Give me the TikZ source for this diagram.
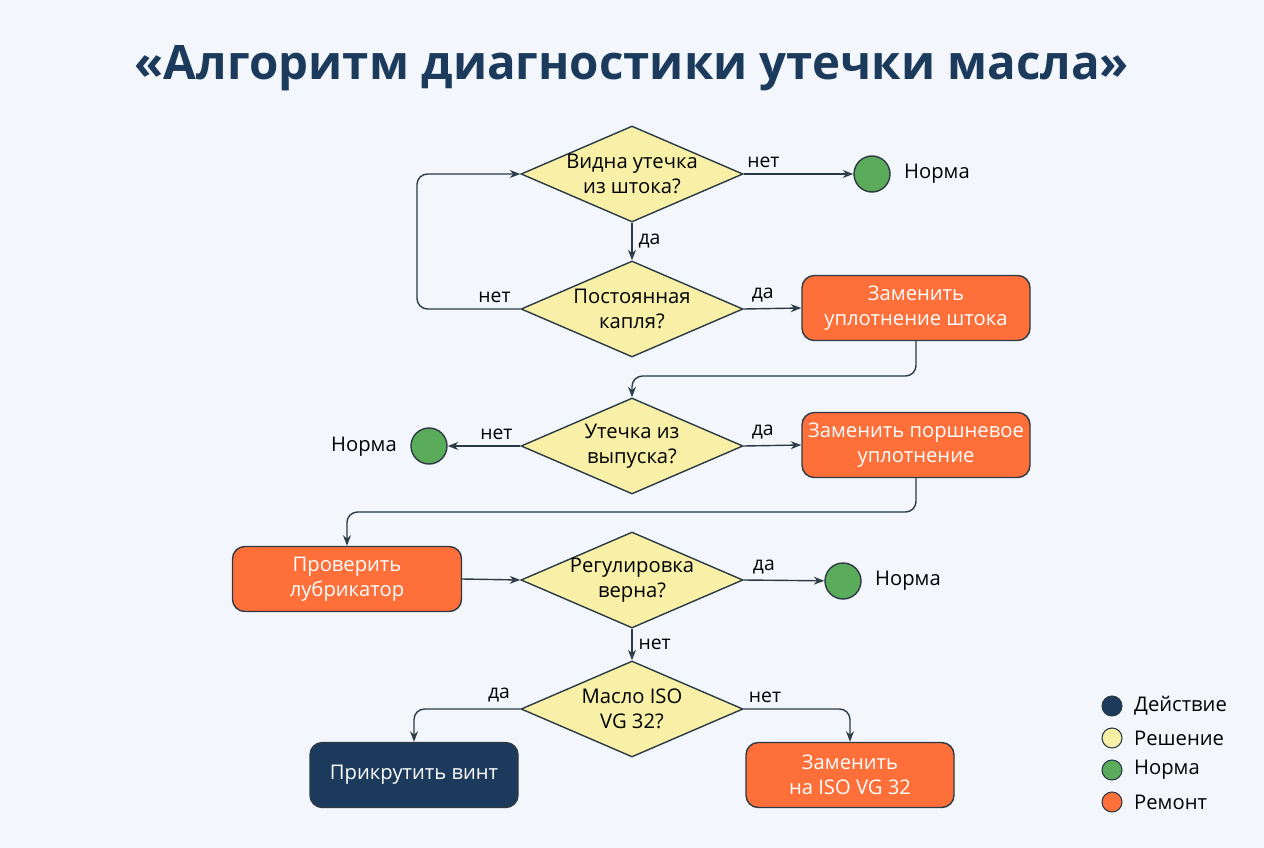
\documentclass[tikz,border=0pt]{standalone}
\usepackage{fontspec}
\setmainfont{Open Sans}
\usetikzlibrary{shapes.geometric,arrows.meta}
\definecolor{bg}{HTML}{F3F7FB}
\definecolor{navy}{HTML}{1B3A5C}
\definecolor{yel}{HTML}{F7F0A6}
\definecolor{grn}{HTML}{5AAB5A}
\definecolor{org}{HTML}{FF6F3A}
\definecolor{ln}{HTML}{2B3A45}
\begin{document}
\begin{tikzpicture}[x=0.02cm,y=-0.02cm,
  dec/.style={diamond,draw=ln,line width=0.8pt,fill=yel,minimum width=222*0.02cm,minimum height=96*0.02cm,inner sep=0pt},
  dt/.style={align=center,font=\fontsize{11.5}{14}\selectfont},
  rep/.style={rectangle,rounded corners=7pt,draw=ln,line width=0.8pt,fill=org,text=white,align=center,font=\fontsize{11.5}{14}\selectfont,minimum height=65*0.02cm},
  act/.style={rep,fill=navy},
  ok/.style={circle,draw=ln,line width=0.8pt,fill=grn,minimum size=36*0.02cm,inner sep=0pt},
  lg/.style={circle,draw=ln,line width=0.6pt,minimum size=20*0.02cm,inner sep=0pt},
  lab/.style={font=\fontsize{11}{13}\selectfont},
  txt/.style={font=\fontsize{11.5}{14}\selectfont},
  arr/.style={draw=ln,line width=0.8pt,-{Stealth[length=6pt,open]},rounded corners=6pt}]
\fill[bg] (0,0) rectangle (1264,848);
\useasboundingbox (0,0) rectangle (1264,848);
\node[font=\bfseries\fontsize{27}{32}\selectfont,text=navy] (title) at (632,68) {«Алгоритм диагностики утечки масла»};
\node[dec] (d1) at (632,174) {}; \node[dt] (t1) at (d1) {Видна утечка\\из штока?};
\node[dec] (d2) at (632,309) {}; \node[dt] (t2) at (d2) {Постоянная\\капля?};
\node[dec] (d3) at (632,446) {}; \node[dt] (t3) at (d3) {Утечка из\\выпуска?};
\node[dec] (d4) at (632,580) {}; \node[dt] (t4) at (d4) {Регулировка\\верна?};
\node[dec] (d5) at (632,709) {}; \node[dt] (t5) at (d5) {Масло ISO\\VG 32?};
\node[ok] (n1) at (872,174) {};
\node[txt,anchor=west] (n1t) at (898,174) {Норма};
\node[ok] (n2) at (429,446) {};
\node[txt,anchor=east] (n2t) at (403,447) {Норма};
\node[ok] (n3) at (843,581) {};
\node[txt,anchor=west] (n3t) at (869,581) {Норма};
\node[rep,minimum width=228*0.02cm] (r1) at (916,308) {Заменить\\уплотнение штока};
\node[rep,minimum width=228*0.02cm] (r2) at (916,445) {Заменить поршневое\\уплотнение};
\node[rep,minimum width=229*0.02cm] (r3) at (347,579) {Проверить\\лубрикатор};
\node[act,minimum width=208*0.02cm] (a1) at (414,775) {Прикрутить винт};
\node[rep,minimum width=208*0.02cm] (r4) at (850,775) {Заменить\\на ISO VG 32};
\coordinate (c1) at (417,309); \coordinate (c2) at (417,174);
\draw[arr] (d1.east) -- node[lab,above,pos=0.18] {нет} (n1);
\draw[arr] (d1.south) -- node[lab,right] {да} (d2.north);
\draw[arr] (d2.west) -- node[lab,above,pos=0.25] {нет} (c1) -- (c2) -- (d1.west);
\draw[arr] (d2.east) -- node[lab,above,pos=0.33] {да} (r1.west);
\draw[arr] (r1.south) |- (632,376) -- (d3.north);
\draw[arr] (d3.west) -- node[lab,above,pos=0.33] {нет} (n2);
\draw[arr] (d3.east) -- node[lab,above,pos=0.33] {да} (r2.west);
\draw[arr] (r2.south) |- (347,512) -- (r3.north);
\draw[arr] (r3.east) -- (d4.west);
\draw[arr] (d4.east) -- node[lab,above,pos=0.25] {да} (n3);
\draw[arr] (d4.south) -- node[lab,right] {нет} (d5.north);
\draw[arr] (d5.west) -- node[lab,above,pos=0.2] {да} (414,709) -- (a1.north);
\draw[arr] (d5.east) -- node[lab,above,pos=0.2] {нет} (850,709) -- (r4.north);
\node[lg,fill=navy] (l1) at (1112,706) {};
\node[lg,fill=yel] (l2) at (1112,738) {};
\node[lg,fill=grn] (l3) at (1112,770) {};
\node[lg,fill=org] (l4) at (1112,802) {};
\node[txt,anchor=west] at (1128,706) {Действие};
\node[txt,anchor=west] at (1128,738) {Решение};
\node[txt,anchor=west] at (1128,770) {Норма};
\node[txt,anchor=west] at (1128,802) {Ремонт};
\end{tikzpicture}
\end{document}
